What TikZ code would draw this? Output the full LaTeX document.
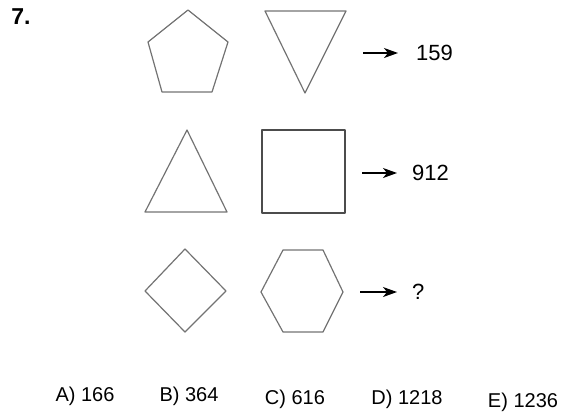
\documentclass[tikz,border=0pt]{standalone}
\usepackage{fontspec}
\setmainfont{Liberation Sans}
\usetikzlibrary{arrows.meta}

\tikzset{
  shape line/.style={draw=black!55, line width=1.2pt, line join=round},
  arr/.style={-{Stealth[length=14pt,width=10pt,inset=4pt]}, line width=1.4pt},
  num/.style={font=\fontsize{22}{26}\selectfont, inner sep=0pt, anchor=west},
  ans/.style={font=\fontsize{20}{24}\selectfont, inner sep=0pt},
}

\begin{document}
\begin{tikzpicture}[x=1pt, y=-1pt]
    \useasboundingbox (0,0) rectangle (563,416);

    % Question number
    \node[font=\bfseries\fontsize{23}{27}\selectfont, inner sep=0pt] (qnum) at (21,17) {7.};

    % Row 1: pentagon and inverted triangle
    \draw[shape line] (188,10) -- (228,42) -- (212,92) -- (162,92) -- (148,42) -- cycle;
    \draw[shape line] (265,11) -- (346,11) -- (305,93) -- cycle;
    \coordinate (a1) at (363,53);
    \node[num] (n1) at (416,53) {159};
    \draw[arr, shorten >=18pt] (a1) -- (n1.west);

    % Row 2: triangle and square
    \draw[shape line] (187,130) -- (227,212) -- (145,212) -- cycle;
    \draw[shape line, draw=black!70] (262,130) rectangle (345,213);
    \coordinate (a2) at (362,173);
    \node[num] (n2) at (412,173) {912};
    \draw[arr, shorten >=15pt] (a2) -- (n2.west);

    % Row 3: diamond and hexagon
    \draw[shape line] (185,249) -- (226,291) -- (185,332) -- (145,291) -- cycle;
    \draw[shape line] (283,250) -- (323,250) -- (343,292) -- (323,332) -- (283,332) -- (261,292) -- cycle;
    \coordinate (a3) at (360,292);
    \node[num] (n3) at (412,292) {?};
    \draw[arr, shorten >=15pt] (a3) -- (n3.west);

    % Answer choices
    \node[ans] (ansA) at (85,396) {A) 166};
    \node[ans] (ansB) at (189,396) {B) 364};
    \node[ans] (ansC) at (295,399) {C) 616};
    \node[ans] (ansD) at (407,399) {D) 1218};
    \node[ans] (ansE) at (523,402) {E) 1236};
\end{tikzpicture}
\end{document}
